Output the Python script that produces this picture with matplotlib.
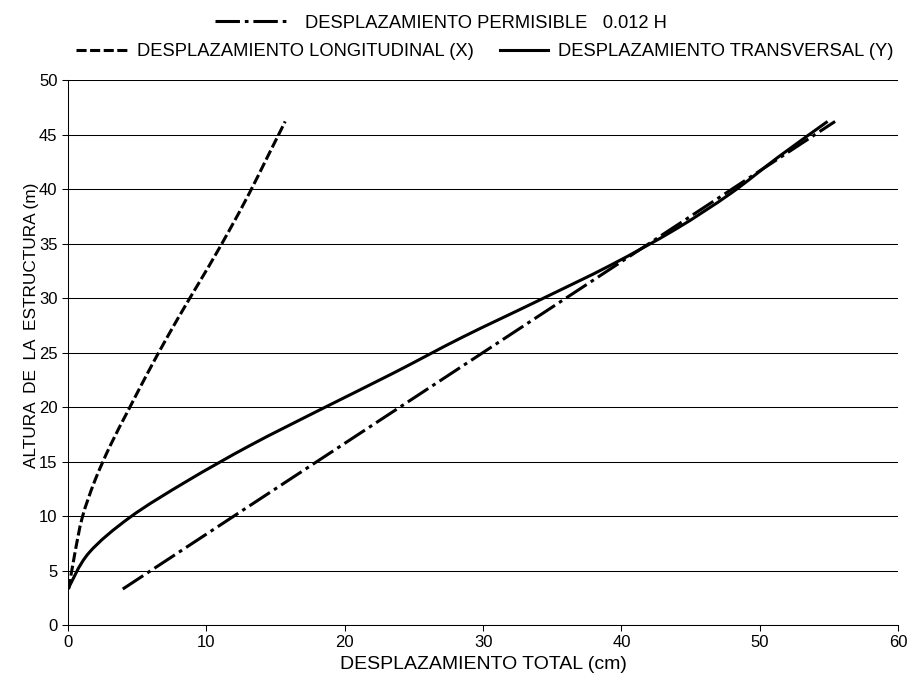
import matplotlib
matplotlib.use("Agg")
import matplotlib.pyplot as plt
from matplotlib.lines import Line2D
from matplotlib.path import Path
from matplotlib.patches import PathPatch

plt.rcParams['font.family'] = ['Liberation Sans', 'DejaVu Sans']

# alturas de entrepiso (m)
alturas = [3.3, 6.6, 9.9, 13.2, 16.5, 19.8, 23.1, 26.4, 29.7, 33.0, 36.3, 39.6, 42.9, 46.2]
# desplazamientos (cm)
desp_long = [0.05, 0.5, 1.04, 1.93, 3.07, 4.4, 5.75, 7.17, 8.67, 10.22, 11.7, 13.1, 14.4, 15.7]
desp_trans = [0.0, 1.5, 4.5, 8.6, 13.2, 18.3, 23.5, 28.5, 33.9, 39.2, 43.9, 47.9, 51.3, 54.9]
desp_perm = [3.96, 7.92, 11.88, 15.84, 19.80, 23.76, 27.72, 31.68, 35.64, 39.60,
             43.56, 47.52, 51.48, 55.44]

LW = 2.2
DASHED = (3.3, 1.15)
DASHDOT = (8.0, 1.6, 1.2, 1.6)


def suavizado(xs, ys):
    # curva suave tipo Catmull-Rom a partir de los puntos
    pts = list(zip(xs, ys))
    n = len(pts)
    verts = [pts[0]]
    codes = [Path.MOVETO]
    for i in range(n - 1):
        p0 = pts[max(i - 1, 0)]
        p1 = pts[i]
        p2 = pts[i + 1]
        p3 = pts[min(i + 2, n - 1)]
        c1 = (p1[0] + (p2[0] - p0[0]) / 6, p1[1] + (p2[1] - p0[1]) / 6)
        c2 = (p2[0] - (p3[0] - p1[0]) / 6, p2[1] - (p3[1] - p1[1]) / 6)
        verts += [c1, c2, p2]
        codes += [Path.CURVE4] * 3
    return Path(verts, codes)


fig = plt.figure(figsize=(9.1, 6.77), dpi=100)
ax = fig.add_axes([0.0747, 0.0768, 0.9123, 0.805])

ax.set_xlim(0, 60)
ax.set_ylim(0, 50)
ax.set_xticks(range(0, 61, 10))
ax.set_yticks(range(0, 51, 5))
ax.yaxis.grid(True, color='black', lw=0.75)
ax.set_axisbelow(True)
for s in ['top', 'right']:
    ax.spines[s].set_visible(False)
for s in ['left', 'bottom']:
    ax.spines[s].set_linewidth(0.75)
ax.tick_params(direction='out', length=4, width=0.75, labelsize=12)

ax.plot(desp_perm, alturas, color='black', lw=LW, dashes=DASHDOT,
        solid_capstyle='butt', dash_capstyle='butt')
ax.add_patch(PathPatch(suavizado(desp_long, alturas), fill=False, color='black',
                       lw=LW, linestyle=(0, DASHED), capstyle='butt'))
ax.add_patch(PathPatch(suavizado(desp_trans, alturas), fill=False, color='black',
                       lw=LW, capstyle='butt'))

ax.set_xlabel('DESPLAZAMIENTO TOTAL (cm)', fontsize=14, labelpad=4)
ax.set_ylabel('ALTURA  DE  LA  ESTRUCTURA (m)', fontsize=12.4)
ax.yaxis.set_label_coords(-0.035, 0.55)

h_perm = Line2D([], [], color='black', lw=LW, dashes=DASHDOT)
h_long = Line2D([], [], color='black', lw=LW, dashes=DASHED)
h_trans = Line2D([], [], color='black', lw=LW)

opts = dict(frameon=False, fontsize=13.2, borderpad=0, borderaxespad=0)
fig.legend([h_perm], ['DESPLAZAMIENTO PERMISIBLE   0.012 H'], loc='center left',
           bbox_to_anchor=(215 / 910, 1 - 23 / 677), handlelength=4.1,
           handletextpad=0.8, **opts)
fig.legend([h_long], ['DESPLAZAMIENTO LONGITUDINAL (X)'], loc='center left',
           bbox_to_anchor=(76 / 910, 1 - 52 / 677), handlelength=2.8,
           handletextpad=0.55, **opts)
fig.legend([h_trans], ['DESPLAZAMIENTO TRANSVERSAL (Y)'], loc='center left',
           bbox_to_anchor=(500 / 910, 1 - 52 / 677), handlelength=2.6,
           handletextpad=0.55, **opts)

fig.savefig('out.png', dpi=100)
